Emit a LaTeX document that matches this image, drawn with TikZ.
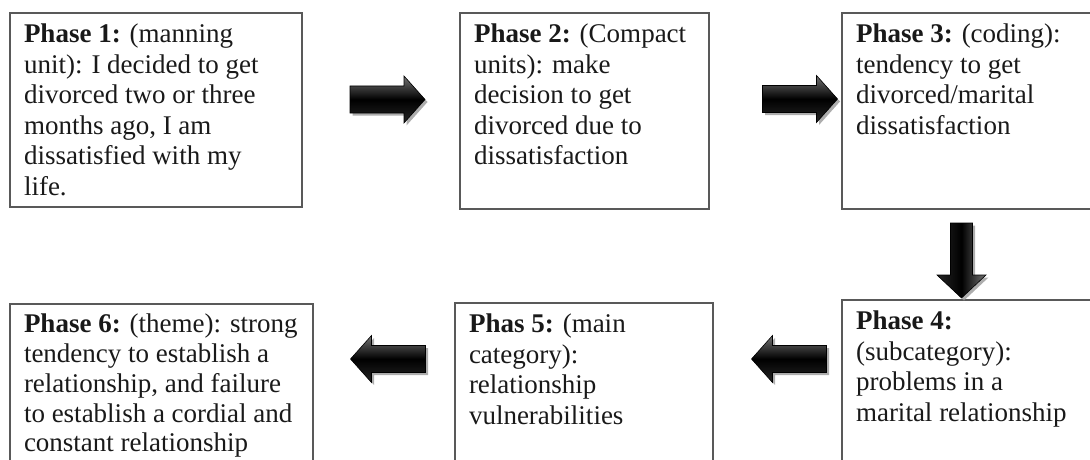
\documentclass[tikz,border=0pt]{standalone}
\usepackage{fontspec}
\setmainfont{Liberation Serif}
\usetikzlibrary{calc,shadows}
\newcommand{\boxtext}[3]{\parbox[c][#2pt][t]{#1pt}{\raggedright #3}}
\begin{document}
\begin{tikzpicture}[x=1pt,y=1pt,
  box/.style={draw=black!65, line width=1.2pt, rectangle, anchor=north west,
    outer sep=0pt, inner xsep=14pt, inner ysep=11pt, text=black!90,
    font=\fontsize{27}{30.5}\selectfont},
  hbody/.style={draw=black, line width=0.6pt, top color=black!55, bottom color=black!85, middle color=black,
    drop shadow={shadow xshift=2.5pt, shadow yshift=-2.5pt, fill=black!40, opacity=0.8}},
  vbody/.style={draw=black, line width=0.6pt, left color=black!85, right color=black!55, middle color=black,
    drop shadow={shadow xshift=2.5pt, shadow yshift=-2.5pt, fill=black!40, opacity=0.8}},
  harrow/.pic={\path[hbody] (-37.5,-13.5) -- (16.5,-13.5) -- (16.5,-23.5) -- (37.5,0) -- (16.5,23.5) -- (16.5,13.5) -- (-37.5,13.5) -- cycle;},
  varrow/.pic={\path[vbody] (-11,37.5) -- (-11,-14.5) -- (-24.5,-14.5) -- (0,-37.5) -- (24.5,-14.5) -- (11,-14.5) -- (11,37.5) -- cycle;},
]
\useasboundingbox (0,0) rectangle (1090,-460);
\clip (0,0) rectangle (1090,-460);

\node[box] (b1) at (10,-13) {\boxtext{264}{172}{\textbf{Phase 1:} (manning\\ unit): I decided to get\\ divorced two or three\\ months ago, I am\\ dissatisfied with my\\ life.}};
\node[box] (b2) at (460,-13) {\boxtext{221}{174}{\textbf{Phase 2:} (Compact\\ units): make\\ decision to get\\ divorced due to\\ dissatisfaction}};
\node[box] (b3) at (842,-13) {\boxtext{230}{174}{\textbf{Phase 3:} (coding):\\ tendency to get\\ divorced/marital\\ dissatisfaction}};
\node[box] (b4) at (842,-300) {\boxtext{230}{148}{\textbf{Phase 4:}\\ (subcategory):\\ problems in a\\ marital relationship}};
\node[box] (b5) at (455,-303) {\boxtext{230}{145}{\textbf{Phas 5:} (main\\ category):\\ relationship\\ vulnerabilities}};
\node[box, inner ysep=10pt, font=\fontsize{27}{29.8}\selectfont] (b6) at (10,-304) {\boxtext{275}{146}{\textbf{Phase 6:} (theme): strong\\ tendency to establish a\\ relationship, and failure\\ to establish a cordial and\\ constant relationship}};

\pic (a12) at ($(b1.north east)+(85.5,-86.5)$) {harrow};
\pic (a23) at ($(b3.north west)+(-42,-86)$) {harrow};
\pic (a34) at ($(b3.south west)+(119.5,-51.5)$) {varrow};
\pic[xscale=-1] (a45) at ($(b4.north west)+(-53,-59)$) {harrow};
\pic[xscale=-1] (a56) at ($(b5.north west)+(-67,-56)$) {harrow};
\end{tikzpicture}
\end{document}
